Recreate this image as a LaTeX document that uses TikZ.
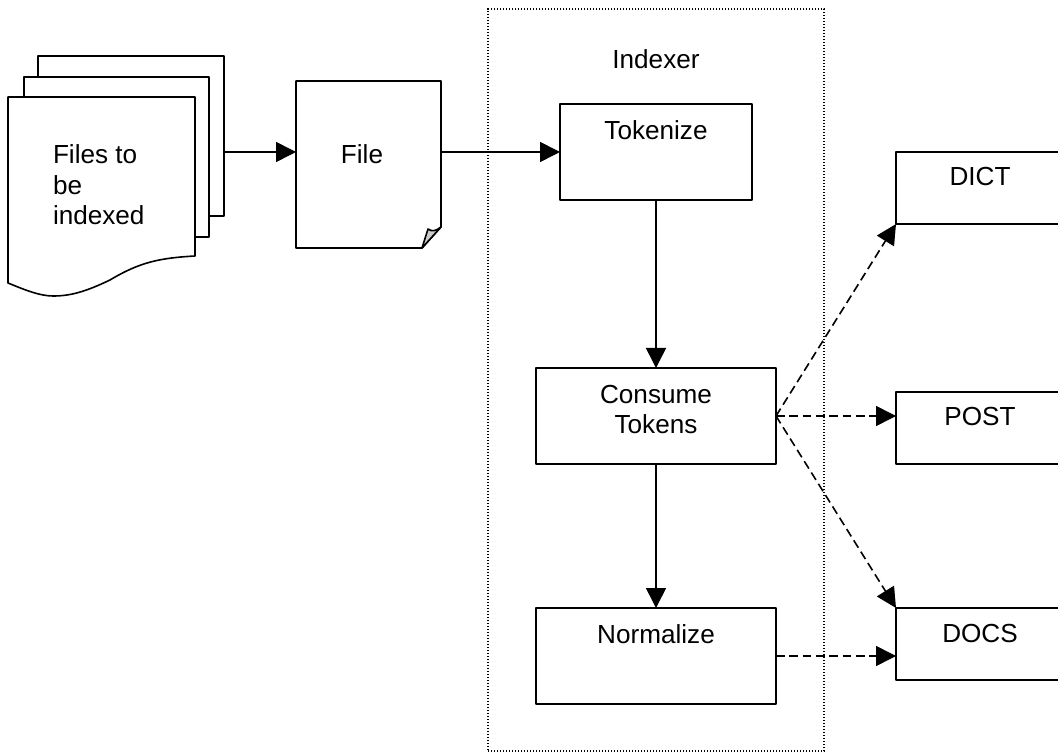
\documentclass[tikz,border=0pt]{standalone}
\usepackage{fontspec}
\setmainfont{Liberation Sans}
\usetikzlibrary{arrows.meta}
\tikzset{
  line/.style={line width=1.2pt,draw=black,line join=round},
  boxshape/.style={line,fill=white,rectangle,inner sep=0pt,outer sep=0pt},
  anchorbox/.style={rectangle,inner sep=0pt,outer sep=0pt},
  txt/.style={inner sep=0pt,outer sep=0pt,anchor=base,align=center,font=\fontsize{19.6}{22.9}\selectfont},
  flow/.style={line,-{Triangle[length=15pt,width=15pt]}},
  dep/.style={flow,dash pattern=on 6.5pt off 3.5pt},
  frame/.style={rectangle,draw=black,line width=1pt,dash pattern=on 1.1pt off 1.15pt,inner sep=0pt,outer sep=0pt}
}
% place a box by its pixel corners
\newcommand{\pxbox}[6]{\node[#1,minimum width=#4*0.75pt-#2*0.75pt,minimum height=#5*0.75pt-#3*0.75pt] (#6) at ({(#2+#4)/2},{(#3+#5)/2}) {};}
\begin{document}
\begin{tikzpicture}[x=0.75pt,y=-0.75pt]
\useasboundingbox (0,0) rectangle (1058,752);
% document stack
\pxbox{boxshape}{38}{56}{224}{216}{back}
\pxbox{boxshape}{24}{77}{209}{237}{middle}
\pxbox{anchorbox}{8}{97}{195}{296}{front}
\draw[line,fill=white] (8,97) -- (195,97) -- (195,256)
  .. controls (160,258) and (140,262) .. (110,280)
  .. controls (85,292) and (70,296) .. (53,296)
  .. controls (40,296) and (25,290) .. (8,283) -- cycle;
\node[txt,anchor=base west,align=left] (filesText) at (53,225) {Files to\\be\\indexed};
% single file
\pxbox{anchorbox}{296}{81}{441}{248}{file}
\draw[line,fill=white] (296,81) -- (441,81) -- (441,227) -- (422,248) -- (296,248) -- cycle;
\draw[line,fill=black!20] (422,248) -- (428,229) .. controls (432,232) and (436,231) .. (441,227) -- cycle;
\node[txt] (fileText) at (362,164) {File};
% indexer frame
\pxbox{frame}{488}{9}{824}{751}{indexer}
\node[txt] (indexerText) at (656,69) {Indexer};
% process boxes
\pxbox{boxshape}{560}{104}{752}{200}{tokenize}
\node[txt] (tokenizeText) at (656,140) {Tokenize};
\pxbox{boxshape}{536}{368}{776}{464}{consume}
\node[txt] (consumeText) at (656,434) {Consume\\Tokens};
\pxbox{boxshape}{536}{608}{776}{704}{normalize}
\node[txt] (normalizeText) at (656,643) {Normalize};
% stores: open on the right, cut by the picture's edge
\pxbox{anchorbox}{896}{152}{1058}{224}{dict}
\draw[line] (dict.north east) -- (dict.north west) -- (dict.south west) -- (dict.south east);
\node[txt] (dictText) at (980,186) {DICT};
\pxbox{anchorbox}{896}{392}{1058}{464}{post}
\draw[line] (post.north east) -- (post.north west) -- (post.south west) -- (post.south east);
\node[txt] (postText) at (980,426) {POST};
\pxbox{anchorbox}{896}{608}{1058}{680}{docs}
\draw[line] (docs.north east) -- (docs.north west) -- (docs.south west) -- (docs.south east);
\node[txt] (docsText) at (980,642) {DOCS};
% connectors
\draw[flow] (tokenize.west -| back.east) -- (tokenize.west -| file.west);
\draw[flow] (tokenize.west -| file.east) -- (tokenize.west);
\draw[flow] (tokenize.south) -- (consume.north);
\draw[flow] (consume.south) -- (normalize.north);
\draw[dep] (consume.east) -- (dict.south west);
\draw[dep] (consume.east) -- (consume.east -| post.west);
\draw[dep] (consume.east) -- (docs.north west);
\draw[dep] (normalize.east) -- (normalize.east -| docs.west);
\end{tikzpicture}
\end{document}
